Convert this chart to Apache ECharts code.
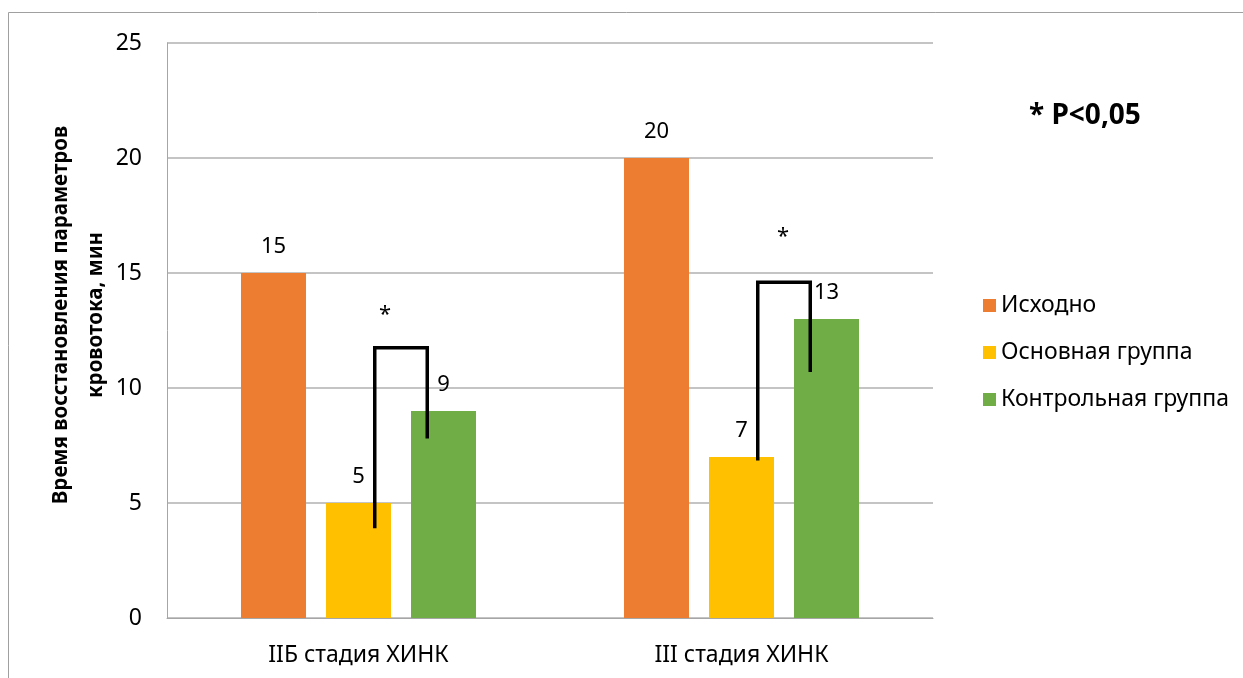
<!DOCTYPE html>
<html>
<head>
<meta charset="utf-8">
<script src="https://cdn.jsdelivr.net/npm/echarts@6/dist/echarts.min.js"></script>
<style>
  html, body { margin: 0; padding: 0; background: #fff; }
  #chart { width: 1243px; height: 678px; }
</style>
</head>
<body>
<div id="chart"></div>
<script>
// Stages of chronic limb ischemia
const categories = ['IIБ стадия ХИНК', 'III стадия ХИНК'];

// Blood flow recovery time, minutes
const seriesNames = ['Исходно', 'Основная группа', 'Контрольная группа'];
const baseline = [15, 20];
const mainGroup = [5, 7];
const controlGroup = [9, 13];

// Significance brackets between main and control groups:
// [category index, left leg bottom, bracket top, right leg bottom, asterisk level]
const brackets = [
  [0, 3.9, 11.75, 7.8, 13.4],
  [1, 6.85, 14.6, 10.7, 16.8]
];

const yTicks = { min: 0, max: 25, interval: 5 };
const noteText = '* P<0,05';
const yTitle = 'Время восстановления параметров\nкровотока, мин';

const colors = ['#ED7D31', '#FFC000', '#70AD47'];
const FONT = 'Noto Sans';
const BAR_W = 65;
const BAR_GAP = 20;
const starShift = [-16, -1];

const chart = echarts.init(document.getElementById('chart'), null, { renderer: 'canvas' });

function barSeries(name, data, color) {
  return {
    name: name,
    type: 'bar',
    data: data,
    barWidth: BAR_W,
    barGap: (BAR_GAP / BAR_W * 100).toFixed(2) + '%',
    itemStyle: { color: color },
    label: {
      show: true,
      position: 'top',
      distance: 15,
      color: '#000',
      fontFamily: FONT,
      fontSize: 22
    }
  };
}

function renderBracket(params, api) {
  const cat = api.value(0);
  const cx = api.coord([cat, 0])[0];
  const step = BAR_W + BAR_GAP;
  const inset = BAR_W / 4;
  const xl = cx + inset;            // inside the main-group bar
  const xr = cx + step - inset;     // inside the control-group bar
  const yl = api.coord([cat, api.value(1)])[1];
  const yt = api.coord([cat, api.value(2)])[1];
  const yr = api.coord([cat, api.value(3)])[1];
  const ys = api.coord([cat, api.value(4)])[1];
  return {
    type: 'group',
    children: [
      {
        type: 'polyline',
        shape: { points: [[xl, yl], [xl, yt], [xr, yt], [xr, yr]] },
        style: { stroke: '#000', lineWidth: 3.5, fill: null, lineJoin: 'miter' }
      },
      {
        type: 'text',
        style: {
          text: '*',
          x: (xl + xr) / 2 + starShift[params.dataIndex],
          y: ys + 5,
          align: 'center',
          verticalAlign: 'middle',
          fontFamily: FONT,
          fontSize: 22,
          fill: '#000'
        }
      }
    ]
  };
}

const option = {
  animation: false,
  backgroundColor: '#fff',
  textStyle: { fontFamily: FONT },
  grid: { left: 167, right: 310, top: 43, bottom: 60, containLabel: false },
  legend: {
    data: seriesNames,
    orient: 'vertical',
    left: 978,
    top: 289,
    itemWidth: 13,
    itemHeight: 13,
    itemGap: 24,
    icon: 'rect',
    textStyle: { color: '#000', fontFamily: FONT, fontSize: 23 }
  },
  xAxis: {
    type: 'category',
    data: categories,
    axisTick: { show: false },
    axisLine: { lineStyle: { color: '#A6A6A6', width: 1 } },
    axisLabel: { color: '#000', fontFamily: FONT, fontSize: 23, margin: 26 }
  },
  yAxis: {
    type: 'value',
    min: yTicks.min,
    max: yTicks.max,
    interval: yTicks.interval,
    axisLine: { show: true, lineStyle: { color: '#A6A6A6', width: 1 } },
    axisTick: { show: false },
    splitLine: { lineStyle: { color: '#B0B0B0', width: 1.5 } },
    axisLabel: { color: '#000', fontFamily: FONT, fontSize: 23, margin: 25 }
  },
  series: [
    barSeries(seriesNames[0], baseline, colors[0]),
    barSeries(seriesNames[1], mainGroup, colors[1]),
    barSeries(seriesNames[2], controlGroup, colors[2]),
    {
      name: 'significance',
      type: 'custom',
      renderItem: renderBracket,
      data: brackets,
      z: 5,
      silent: true
    }
  ],
  graphic: [
    {
      type: 'rect',
      shape: { x: 8.5, y: 12.5, width: 1300, height: 700 },
      style: { fill: null, stroke: '#A0A0A0', lineWidth: 1 },
      silent: true
    },
    {
      type: 'text',
      x: 79,
      y: 315,
      rotation: Math.PI / 2,
      style: {
        text: yTitle,
        align: 'center',
        verticalAlign: 'middle',
        fontFamily: FONT,
        fontWeight: 'bold',
        fontSize: 20.5,
        lineHeight: 35,
        fill: '#000'
      }
    },
    {
      type: 'text',
      x: 1029,
      y: 116,
      style: {
        text: noteText,
        align: 'left',
        verticalAlign: 'middle',
        fontFamily: FONT,
        fontWeight: 'bold',
        fontSize: 28,
        fill: '#000'
      }
    }
  ]
};

chart.setOption(option);
</script>
</body>
</html>
